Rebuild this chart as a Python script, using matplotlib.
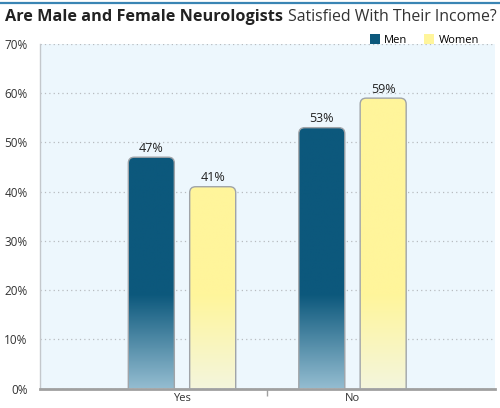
import numpy as np
import matplotlib
matplotlib.use("Agg")
import matplotlib.pyplot as plt
from matplotlib.patches import FancyBboxPatch, Patch
from matplotlib.colors import LinearSegmentedColormap
from matplotlib.lines import Line2D

# ---- data ----
categories = ["Yes", "No"]
men = [47, 53]
women = [41, 59]
series_names = ["Men", "Women"]
yticks = [0, 10, 20, 30, 40, 50, 60, 70]
ytick_labels = ["0%", "10%", "20%", "30%", "40%", "50%", "60%", "70%"]
title_bold = "Are Male and Female Neurologists"
title_regular = "Satisfied With Their Income?"

# ---- style ----
plt.rcParams["font.family"] = ["Open Sans", "DejaVu Sans"]
men_top, men_bottom = "#0c587c", "#93bcd0"
women_top, women_bottom = "#fff59b", "#f4f6dc"
fade_level = 19.0  # value below which the bar colour fades

fig = plt.figure(figsize=(5.0, 4.08), dpi=100)
ax = fig.add_axes([40 / 500, 1 - 388.5 / 408, 455 / 500, (388.5 - 44) / 408])
ax.set_facecolor("#edf7fd")

x = np.arange(len(categories))
offset = 0.18
width = 0.27
ax.set_xlim(-0.833, 1.836)
ax.set_ylim(0, 70)

# invisible bars to get geometry from the library
bars_men = ax.bar(x - offset, men, width, facecolor="none", edgecolor="none")
bars_women = ax.bar(x + offset, women, width, facecolor="none", edgecolor="none")

fig.canvas.draw()
px_per_x = ax.transData.transform((1, 0))[0] - ax.transData.transform((0, 0))[0]
px_per_y = ax.transData.transform((0, 1))[1] - ax.transData.transform((0, 0))[1]
r_px = 6.0
rx = r_px / px_per_x
aspect = px_per_x / px_per_y


def draw_bar(rect, top_c, bot_c):
    bx, bw, bh = rect.get_x(), rect.get_width(), rect.get_height()
    patch = FancyBboxPatch((bx, -3), bw, bh + 3,
                           boxstyle=f"round,pad=0,rounding_size={rx}",
                           mutation_aspect=aspect,
                           facecolor="none", edgecolor="#a0a4a8",
                           linewidth=1.0, zorder=4, clip_on=True)
    ax.add_patch(patch)
    ys = np.linspace(0, bh, 300)
    t = np.clip(ys / fade_level, 0, 1)
    cmap = LinearSegmentedColormap.from_list("g", [bot_c, top_c])
    img = ax.imshow(t[:, None], cmap=cmap, vmin=0, vmax=1, origin="lower",
                    extent=(bx, bx + bw, 0, bh), aspect="auto", zorder=3,
                    interpolation="bilinear")
    img.set_clip_path(patch)
    ax.text(bx + bw / 2, bh + 0.5, f"{int(round(bh))}%", ha="center",
            va="bottom", fontsize=9, color="#222222", zorder=5)


for rect in bars_men:
    draw_bar(rect, men_top, men_bottom)
for rect in bars_women:
    draw_bar(rect, women_top, women_bottom)

ax.set_xlim(-0.833, 1.836)
ax.set_ylim(0, 70)

ax.set_yticks(yticks)
ax.set_yticklabels(ytick_labels)
ax.yaxis.grid(True, color="#b8bcc0", linestyle=(0, (1, 2.5)), linewidth=0.9)
ax.set_axisbelow(True)
ax.tick_params(axis="y", length=0, pad=9, labelsize=8.5, labelcolor="#333333")

ax.set_xticks(x)
ax.set_xticklabels(categories)
ax.set_xticks([0.5], minor=True)
ax.tick_params(axis="x", which="major", length=0, pad=3, labelsize=8,
               labelcolor="#333333")
ax.tick_params(axis="x", which="minor", length=5, width=1, color="#a0a0a0")

for s in ["top", "right"]:
    ax.spines[s].set_visible(False)
ax.spines["left"].set_color("#c4c8cc")
ax.spines["left"].set_linewidth(1.0)
ax.spines["bottom"].set_color("#a0a0a0")
ax.spines["bottom"].set_linewidth(2.0)

handles = [Patch(facecolor=men_top, edgecolor="none"),
           Patch(facecolor=women_top, edgecolor="none")]
ax.legend(handles, series_names, loc="lower right", bbox_to_anchor=(0.965, 0.995),
          ncol=2, frameon=False, fontsize=8, handlelength=0.9, handleheight=0.9,
          handletextpad=0.4, columnspacing=1.5, borderaxespad=0, borderpad=0)

fig.add_artist(Line2D([0, 1], [1 - 3 / 408, 1 - 3 / 408], color="#3a85b4",
                      linewidth=1.6, transform=fig.transFigure))

# title in two weights, each fitted to its width in the reference
fig.canvas.draw()
renderer = fig.canvas.get_renderer()
ty = 1 - 17 / 408
tb = fig.text(5 / 500, ty, title_bold, fontsize=10, fontweight="bold",
              color="#222222", va="center", ha="left")
bb = tb.get_window_extent(renderer)
tb.set_fontsize(10 * 278.0 / bb.width)
bb = tb.get_window_extent(renderer)
tr = fig.text((bb.x1 + 5) / 500, ty, title_regular, fontsize=10,
              color="#333333", va="center", ha="left")
br = tr.get_window_extent(renderer)
tr.set_fontsize(10 * (497 - bb.x1 - 5) / br.width)

fig.savefig("out.png", dpi=100)
